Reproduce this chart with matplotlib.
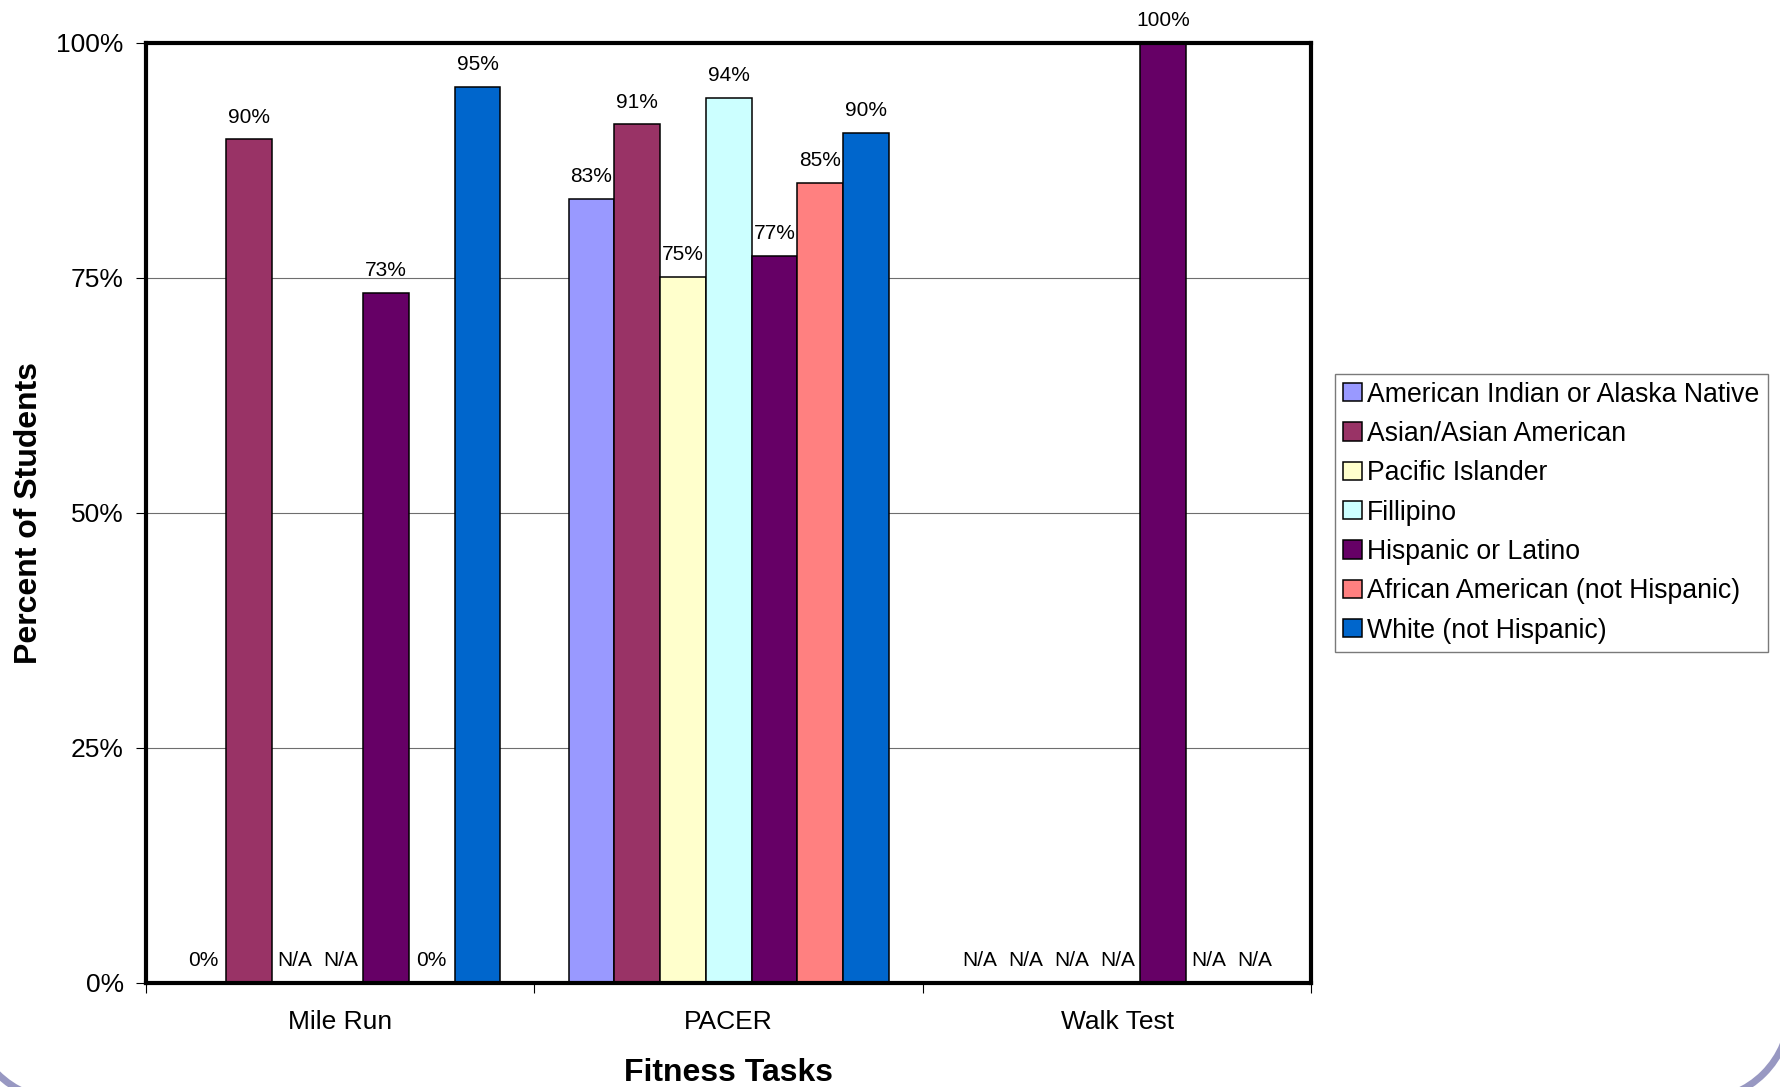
import numpy as np
import matplotlib.pyplot as plt
from matplotlib.patches import Arc

plt.rcParams['font.family'] = ['Liberation Sans', 'DejaVu Sans']

tasks = ['Mile Run', 'PACER', 'Walk Test']
groups = [
    'American Indian or Alaska Native',
    'Asian/Asian American',
    'Pacific Islander',
    'Fillipino',
    'Hispanic or Latino',
    'African American (not Hispanic)',
    'White (not Hispanic)',
]
nan = np.nan
# percent of students per group, one value per task (nan = N/A)
american_indian = [0.0, 83.4, nan]
asian = [89.7, 91.3, nan]
pacific_islander = [nan, 75.1, nan]
filipino = [nan, 94.1, nan]
hispanic = [73.4, 77.3, 100.0]
african_american = [0.0, 85.1, nan]
white = [95.3, 90.4, nan]
series = [american_indian, asian, pacific_islander, filipino,
          hispanic, african_american, white]
colors = ['#9999FF', '#993366', '#FFFFCC', '#CCFFFF',
          '#660066', '#FF8080', '#0066CC']

W, H = 1781, 1087
fig = plt.figure(figsize=(W / 100, H / 100), dpi=100)

# slide frame, only the bottom corners show
deco = fig.add_axes([0, 0, 1, 1], zorder=-5)
deco.set_xlim(0, W)
deco.set_ylim(0, H)
deco.axis('off')
for cx, t1, t2 in [(61, 180, 270), (1700, 270, 360)]:
    deco.add_patch(Arc((cx, 77), 180, 180, theta1=t1, theta2=t2,
                       edgecolor='#9898C2', linewidth=5))

ax = fig.add_axes([146 / W, 1 - 983 / H, (1311.5 - 146) / W, (983 - 42.5) / H])

x = np.arange(len(tasks))
width = 0.1178
for i, (vals, name, c) in enumerate(zip(series, groups, colors)):
    pos = x + (i - 3) * width
    ax.bar(pos, vals, width, color=c, edgecolor='black',
           linewidth=1.1, label=name, zorder=2)
    for xp, v in zip(pos, vals):
        txt = 'N/A' if np.isnan(v) else f'{v:.0f}%'
        yv = 0 if np.isnan(v) else v
        ax.annotate(txt, (xp, yv), xytext=(0, 16), textcoords='offset points',
                    ha='center', va='center', fontsize=15, annotation_clip=False)

ax.set_xlim(-0.5, 2.5)
ax.set_ylim(0, 100)
ax.set_yticks([0, 25, 50, 75, 100])
ax.set_yticklabels([f'{t}%' for t in [0, 25, 50, 75, 100]])
ax.yaxis.grid(True, color='#6e6e6e', linewidth=0.8)
ax.set_axisbelow(True)

ax.set_xticks(x)
ax.set_xticklabels(tasks)
ax.set_xticks([-0.5, 0.5, 1.5, 2.5], minor=True)
ax.tick_params(axis='x', which='major', length=0, pad=19.5, labelsize=19)
ax.tick_params(axis='x', which='minor', length=7, width=0.8, direction='out')
ax.tick_params(axis='y', length=7.5, width=0.8, pad=8.5, labelsize=19)

for sp in ax.spines.values():
    sp.set_linewidth(3)
    sp.set_zorder(3)

ax.set_xlabel('Fitness Tasks', fontsize=23, fontweight='bold', va='center')
ax.xaxis.set_label_coords(0.5, -0.0961)
ax.set_ylabel('Percent of Students', fontsize=23, fontweight='bold', va='center')
ax.yaxis.set_label_coords(-0.1005, 0.5)

leg = fig.legend(loc='center', bbox_to_anchor=(1551.5 / W, 1 - 512.5 / H),
                 fontsize=19.2, frameon=True, fancybox=False, framealpha=1,
                 edgecolor='#7a7a7a', handlelength=0.68, handleheight=0.68,
                 handletextpad=0.22, labelspacing=0.5, borderpad=0.3)
leg.get_frame().set_linewidth(1.0)

fig.savefig('out.png', dpi=100)
